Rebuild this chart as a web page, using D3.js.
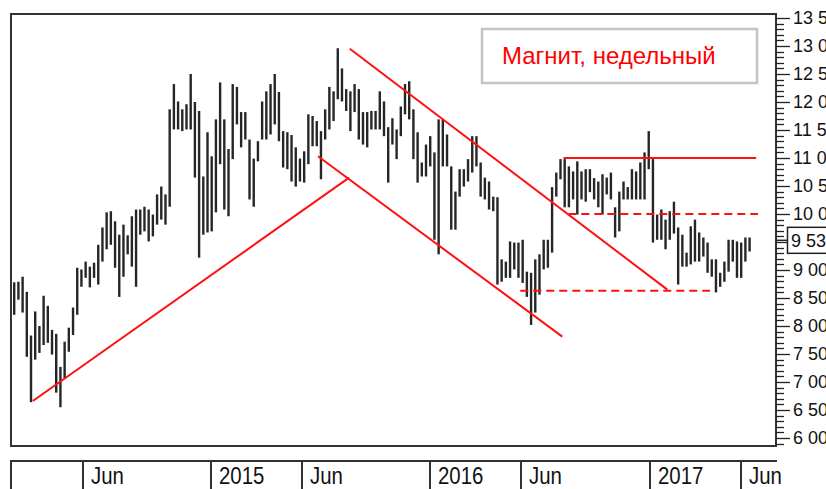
<!DOCTYPE html>
<html>
  <head>
    <meta charset="utf-8">
    <title>Магнит, недельный</title>
    <script src="https://d3js.org/d3.v7.min.js"></script>
    <style>
      body { margin: 0; background: white; }
      text { font-family: "Liberation Sans", Arial, sans-serif; fill: #111; }
    </style>
  </head>
  <body>
    <script>
      // weekly bars (Friday close), high / low
      let firstWeek = "2014-02-07", lastWeek = "2017-06-16";
      let highs = [
        8780, 8790, 8880, 8610, 7830, 8260, 8000, 8540, 8360, 7930,
        7860, 7270, 7720, 7970, 8330, 9040, 9010, 9150, 9060, 9130,
        9450, 9760, 10030, 10050, 9870, 9630, 9810, 9620, 9960, 10080,
        10080, 10130, 10080, 9990, 10350, 10490, 10350, 11870, 12320, 12010,
        11870, 11960, 12500, 12000, 11840, 10670, 11460, 11030, 11690, 12350,
        11690, 11160, 12320, 12270, 11820, 11820, 11330, 10990, 11300, 12010,
        12190, 12320, 12500, 12180, 11480, 11460, 11410, 11190, 10990, 11120,
        11780, 11750, 11660, 11480, 11870, 12270, 12190, 12960, 12600, 12230,
        12190, 12320, 12230, 11820, 11820, 11840, 11840, 12190, 12010, 11550,
        11710, 11510, 11920, 12320, 12370, 11870, 11460, 10920, 11240, 11390,
        11100, 11690, 11690, 11420, 10850, 10400, 10800, 10800, 10980, 11390,
        11390, 10920, 10650, 10580, 10310, 10300, 9190, 9150, 9510, 9490,
        9490, 9540, 8970, 8950, 9190, 9280, 9540, 9540, 10480, 10740,
        10980, 10980, 10850, 10760, 10940, 10760, 10800, 10800, 10640, 10580,
        10710, 10650, 10740, 10120, 10400, 10580, 10480, 10800, 10760, 10920,
        11100, 11480, 10980, 9990, 10080, 9900, 10050, 10220, 9760, 9630,
        9310, 9780, 9900, 9670, 9580, 9490, 9190, 9190, 8950, 9150,
        9540, 9540, 9510, 9490, 9580, 9580
      ];
      let lows = [
        8200, 8470, 8240, 7450, 6640, 7400, 7520, 7660, 7700, 7490,
        6810, 6550, 7070, 7540, 7840, 8200, 8700, 8860, 8690, 8860,
        8740, 9150, 9370, 9450, 9040, 8520, 8880, 9280, 9060, 8700,
        9630, 9690, 9510, 9600, 9810, 9900, 9810, 10130, 11510, 11510,
        11480, 11510, 11510, 10650, 9220, 9630, 9670, 9690, 10030, 10890,
        10080, 9960, 10980, 11600, 11190, 11330, 10260, 10130, 10940, 11330,
        11330, 11420, 11600, 11300, 10830, 10800, 10580, 10490, 10580, 10560,
        10890, 11210, 11210, 10620, 11330, 11510, 11660, 12050, 12010, 11840,
        11480, 11820, 11330, 11240, 11190, 11510, 11510, 11510, 11390, 10560,
        11240, 10980, 11390, 11780, 11690, 10980, 10560, 10670, 10670, 10850,
        9540, 9280, 10850, 10850, 9720, 9720, 10310, 10490, 10580, 10740,
        10850, 10310, 10260, 10080, 10050, 8740, 8790, 8860, 8860, 9010,
        8860, 8770, 8520, 8020, 8240, 8560, 9010, 9040, 9310, 10310,
        10620, 10120, 10120, 10260, 9990, 10260, 10220, 10390, 10260, 10120,
        9990, 10350, 10260, 9580, 9690, 10260, 10260, 10260, 10260, 10260,
        10260, 10800, 9490, 9540, 9540, 9370, 9540, 9650, 8740, 9060,
        9060, 9100, 9150, 9150, 9240, 8950, 8880, 8600, 8700, 8790,
        8970, 9150, 8860, 8860, 9150, 9330
      ];
      let lastPrice = 9530;

      let priceTicks = [6000, 6500, 7000, 7500, 8000, 8500, 9000, 10000,
                        10500, 11000, 11500, 12000, 12500, 13000, 13500];
      let monthTicks = ["2014-06-01", "2015-01-01", "2015-06-01", "2016-01-01",
                        "2016-06-01", "2017-01-01", "2017-06-01"];
      let monthLabels = ["Jun", "2015", "Jun", "2016", "Jun", "2017", "Jun"];

      // red annotation lines: [date, price] -> [date, price]
      let trendLines = [
        [["2014-03-10", 6660], ["2015-08-19", 10650]],
        [["2015-06-28", 11030], ["2016-08-08", 7810]],
        [["2015-08-20", 12950], ["2017-01-30", 8650]],
        [["2016-08-10", 11000], ["2017-06-27", 11000]]
      ];
      let dashedLines = [
        [["2016-05-30", 8630], ["2017-04-11", 8630]],
        [["2016-08-18", 10000], ["2017-06-30", 10000]]
      ];
      let title = "Магнит, недельный";

      let width = 826, height = 489;
      let plotLeft = 11, plotRight = 776, plotTop = 14, plotBottom = 446;

      let svg = d3.select("body").append("svg")
                  .attr("width", width).attr("height", height);

      let weeks = d3.utcFriday.range(new Date(firstWeek), d3.utcDay.offset(new Date(lastWeek), 1));
      let x = d3.scaleUtc()
                .domain([new Date("2014-01-31"), new Date("2017-07-30")])
                .range([10, 776]);
      let y = d3.scaleLinear().domain([6000, 13500]).range([438, 18]);

      svg.append("clipPath").attr("id", "plot")
         .append("rect").attr("x", plotLeft).attr("y", plotTop)
         .attr("width", plotRight - plotLeft).attr("height", plotBottom - plotTop);

      // bars
      svg.append("g").attr("clip-path", "url(#plot)")
         .selectAll("line").data(weeks).enter().append("line")
         .attr("x1", d => x(d)).attr("x2", d => x(d))
         .attr("y1", (d, i) => y(highs[i])).attr("y2", (d, i) => y(lows[i]))
         .attr("stroke", "#262626").attr("stroke-width", 2.4);

      // red lines
      let red = svg.append("g").attr("clip-path", "url(#plot)");
      red.selectAll(".trend").data(trendLines).enter().append("line")
         .attr("x1", d => x(new Date(d[0][0]))).attr("y1", d => y(d[0][1]))
         .attr("x2", d => x(new Date(d[1][0]))).attr("y2", d => y(d[1][1]))
         .attr("stroke", "#ff1010").attr("stroke-width", 2);
      red.selectAll(".dash").data(dashedLines).enter().append("line")
         .attr("x1", d => x(new Date(d[0][0]))).attr("y1", d => y(d[0][1]))
         .attr("x2", d => x(new Date(d[1][0]))).attr("y2", d => y(d[1][1]))
         .attr("stroke", "#ff1010").attr("stroke-width", 2)
         .attr("stroke-dasharray", "8,5");

      // title box
      svg.append("rect").attr("x", 482).attr("y", 29).attr("width", 275).attr("height", 54)
         .attr("fill", "white").attr("stroke", "#c4c4c4").attr("stroke-width", 2.5);
      svg.append("text").attr("x", 502).attr("y", 64).text(title)
         .style("fill", "#ff0000").style("font-size", "24px");

      // frame
      svg.append("rect").attr("x", plotLeft).attr("y", plotTop)
         .attr("width", plotRight - plotLeft).attr("height", plotBottom - plotTop)
         .attr("fill", "none").attr("stroke", "#333").attr("stroke-width", 2);

      // right axis (labels run off the window edge, as in the source chart)
      let fmt = d3.formatLocale({decimal: ",", thousands: " ", grouping: [3], currency: ["", ""]}).format(",");
      let minor = d3.range(5900, 13600, 100);
      svg.append("g").selectAll("line").data(minor).enter().append("line")
         .attr("x1", plotRight).attr("x2", d => d % 500 == 0 ? 790 : 784)
         .attr("y1", d => Math.round(y(d)) + 0.5).attr("y2", d => Math.round(y(d)) + 0.5)
         .attr("stroke", "#222").attr("stroke-width", 1.3);
      svg.append("g").selectAll("text").data(priceTicks).enter().append("text")
         .attr("x", 793).attr("y", d => y(d)).attr("dy", "0.36em")
         .style("font-size", "18px").text(d => fmt(d));

      // last price marker
      svg.append("line").attr("x1", plotRight).attr("x2", 788)
         .attr("y1", y(lastPrice)).attr("y2", y(lastPrice))
         .attr("stroke", "#222").attr("stroke-width", 1.5);
      svg.append("rect").attr("x", 787.5).attr("y", y(lastPrice) - 13)
         .attr("width", 60).attr("height", 26)
         .attr("fill", "white").attr("stroke", "#222").attr("stroke-width", 1.5);
      svg.append("text").attr("x", 791).attr("y", y(lastPrice)).attr("dy", "0.36em")
         .style("font-size", "18px").text(fmt(lastPrice));

      // bottom time strip
      let strip = svg.append("g");
      strip.append("line").attr("x1", 10).attr("x2", plotRight + 1)
           .attr("y1", 461).attr("y2", 461).attr("stroke", "#333").attr("stroke-width", 2);
      strip.append("line").attr("x1", 11).attr("x2", 11)
           .attr("y1", 461).attr("y2", height).attr("stroke", "#333").attr("stroke-width", 2);
      let ticks = strip.selectAll("g").data(monthTicks).enter().append("g")
           .attr("transform", d => "translate(" + Math.round(x(new Date(d))) + ",0)");
      ticks.append("line").attr("y1", 461).attr("y2", height)
           .attr("stroke", "#333").attr("stroke-width", 2);
      ticks.append("text").attr("transform", "translate(8,484) scale(0.85,1)")
           .style("font-size", "24px").text((d, i) => monthLabels[i]);
    </script>
  </body>
</html>
